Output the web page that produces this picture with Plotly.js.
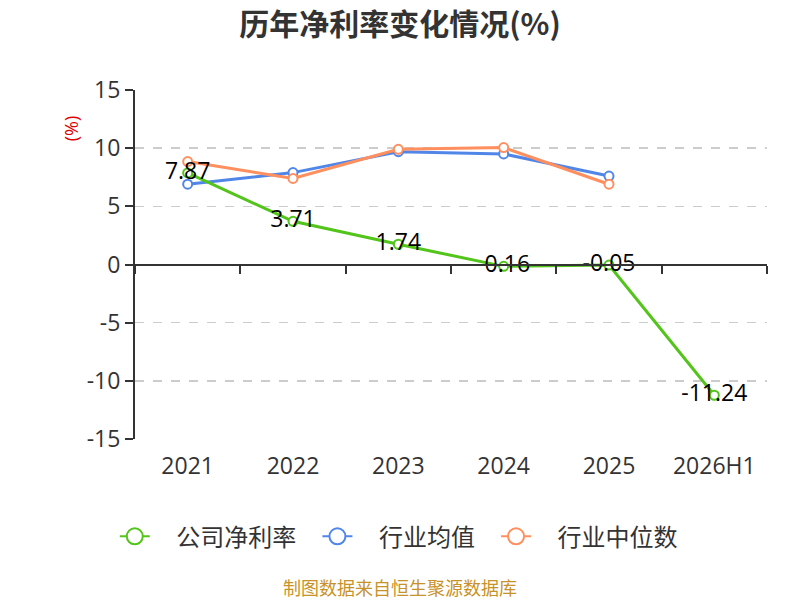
<!DOCTYPE html>
<html><head><meta charset="utf-8">
<script src="https://cdn.plot.ly/plotly-3.0.1.min.js"></script>
<style>html,body{margin:0;padding:0;background:#fff}#c{width:800px;height:600px}</style>
</head><body><div id="c"></div>
<script>
const categories = ['2021','2022','2023','2024','2025','2026H1'];
const companyNet = [7.87, 3.71, 1.74, -0.16, -0.05, -11.24];
const industryAvg = [6.9, 7.9, 9.7, 9.5, 7.6, null];
const industryMedian = [8.85, 7.4, 9.9, 10.05, 6.9, null];
const seriesNames = ['公司净利率', '行业均值', '行业中位数'];
const seriesColors = ['#52c41a', '#5086e8', '#ff8f5e'];
const companyLabels = companyNet.map(v => v.toFixed(2));
const yTicks = [-15,-10,-5,0,5,10,15];
const FONT = 'Open Sans, "Noto Sans CJK SC", sans-serif';
const CJK = '"Noto Sans CJK SC", sans-serif';

// main x axis (zero line with boundary ticks) carries only an empty helper trace
const dummy = {x: categories, y: categories.map(() => null), xaxis: 'x', showlegend: false,
   hoverinfo: 'skip', mode: 'lines'};
function lineTrace(y, i, extra) {
  return Object.assign({x: categories, y: y, xaxis: 'x2', name: seriesNames[i], mode: 'lines+markers', showlegend: false,
    line: {color: seriesColors[i], width: 3},
    marker: {symbol: 'circle', size: 9, color: '#fff', line: {color: seriesColors[i], width: 2}}}, extra || {});
}
const avg = lineTrace(industryAvg, 1);
const median = lineTrace(industryMedian, 2);
const company = lineTrace(companyNet, 0, {mode: 'lines+markers+text', text: companyLabels,
   textposition: 'middle center', textfont: {size: 23, color: '#000', family: FONT}});
const NB = '\u00a0';
const legendTraces = seriesNames.map((n, i) => ({
  x: [null], y: [null], xaxis: 'x2', name: NB + NB + NB + NB + n + NB + NB + NB, mode: 'lines+markers', legendrank: i + 1,
  line: {color: seriesColors[i], width: 2},
  marker: {symbol: 'circle', size: 16, color: '#fff', line: {color: seriesColors[i], width: 2}},
  hoverinfo: 'skip'
}));

const layout = {
  width: 800, height: 600,
  margin: {l: 135, r: 33, t: 90, b: 161, autoexpand: false},
  paper_bgcolor: '#fff', plot_bgcolor: '#fff',
  font: {family: FONT, color: '#333'},
  title: {text: '<b>历年净利率变化情况(%)</b>', x: 0.5, xanchor: 'center', y: 0.96, yanchor: 'middle',
          font: {size: 30, color: '#333', family: CJK}},
  showlegend: true,
  legend: {orientation: 'h', x: -0.032, xanchor: 'left', y: -0.28, yanchor: 'middle',
           font: {size: 24, color: '#333', family: CJK},
           traceorder: 'normal', itemsizing: 'trace'},
  xaxis: {type: 'category', categoryarray: categories, range: [-0.5, 5.5],
          anchor: 'free', position: 0.5, showline: true, linecolor: '#333', linewidth: 2,
          ticks: 'outside', ticklen: 8, tickwidth: 2, tickcolor: '#333', tickson: 'boundaries',
          showticklabels: false, showgrid: false, zeroline: false, fixedrange: true},
  xaxis2: {type: 'category', categoryarray: categories, range: [-0.5, 5.5], overlaying: 'x',
           anchor: 'y', side: 'bottom', showline: false, showgrid: false, zeroline: false, ticks: '',
           tickfont: {size: 23, color: '#333'}, ticklabelstandoff: 11, fixedrange: true},
  yaxis: {range: [-15, 15], tickvals: yTicks, ticktext: yTicks.map(String),
          showline: true, linecolor: '#333', linewidth: 2,
          ticks: 'outside', ticklen: 8, tickwidth: 2, tickcolor: '#333',
          showgrid: true, gridcolor: '#cccccc', griddash: 'dash', gridwidth: 1.5,
          zeroline: false, tickfont: {size: 23, color: '#333'}, fixedrange: true},
  annotations: [
    {text: '(%)', xref: 'paper', yref: 'paper', x: -0.1, y: 0.89, xanchor: 'center', yanchor: 'middle',
     textangle: -90, showarrow: false, font: {size: 18, color: '#e00000', family: FONT}},
    {text: '制图数据来自恒生聚源数据库', xref: 'paper', yref: 'paper', x: 0.42, y: -0.424,
     xanchor: 'center', yanchor: 'middle', showarrow: false,
     font: {size: 18, color: '#c8922a', family: CJK}}
  ]
};
Plotly.newPlot('c', [dummy, avg, median, company].concat(legendTraces), layout, {staticPlot: true, displayModeBar: false});
</script></body></html>
